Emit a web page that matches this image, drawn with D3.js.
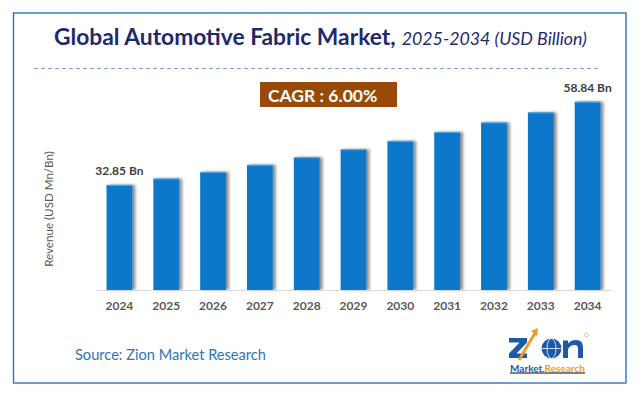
<!DOCTYPE html>
<html>
<head>
<meta charset="utf-8">
<script src="https://cdn.jsdelivr.net/npm/d3@7"></script>
<style>
  body { margin: 0; background: #fff; }
  svg { display: block; font-family: Lato, "Open Sans", sans-serif; }
</style>
</head>
<body>
<div class="chart"></div>
<script>
    const years = ["2024", "2025", "2026", "2027", "2028", "2029", "2030", "2031", "2032", "2033", "2034"];
    const revenue = [32.85, 34.82, 36.91, 39.12, 41.47, 43.96, 46.60, 49.39, 52.36, 55.50, 58.84];
    const labeledYears = ["2024", "2034"];
    const cagrText = "CAGR : 6.00%";

    const data = years.map((y, i) => ({year: y, value: revenue[i]}));

    const W = 640, H = 398;
    const svg = d3.select(".chart").append("svg")
        .attr("width", W)
        .attr("height", H);

    // shadow for bars
    const defs = svg.append("defs");
    const f = defs.append("filter").attr("id", "shadow")
        .attr("x", "-20%").attr("y", "-10%").attr("width", "160%").attr("height", "120%");
    f.append("feDropShadow")
        .attr("dx", 3).attr("dy", 0)
        .attr("stdDeviation", 1.8)
        .attr("flood-color", "#000")
        .attr("flood-opacity", 0.45);

    // outer frame
    svg.append("rect")
        .attr("x", 13.5).attr("y", 13)
        .attr("width", 612.5).attr("height", 370)
        .attr("fill", "none")
        .attr("stroke", "#2e75b6")
        .attr("stroke-width", 1.4);

    // title
    const title = svg.append("text")
        .attr("x", 54).attr("y", 45)
        .attr("fill", "#1f2a6b");
    title.append("tspan")
        .attr("font-size", "22.8px")
        .attr("font-weight", "bold")
        .text("Global Automotive Fabric Market,");
    title.append("tspan")
        .attr("font-size", "17.8px")
        .attr("font-style", "italic")
        .attr("dx", 6)
        .text("2025-2034 (USD Billion)");

    svg.append("line")
        .attr("x1", 34).attr("x2", 598)
        .attr("y1", 68.5).attr("y2", 68.5)
        .attr("stroke", "#7f9fd6")
        .attr("stroke-width", 1)
        .attr("stroke-dasharray", "4,3");

    // scales
    const xScale = d3.scaleBand()
        .domain(years)
        .range([96, 611])
        .paddingInner(0.45)
        .paddingOuter(0.225);

    const yScale = d3.scaleLinear()
        .domain([0, 60])
        .range([290, 98]);

    const plot = svg.append("g");

    plot.selectAll("rect.bar")
        .data(data)
        .enter()
        .append("rect")
        .attr("class", "bar")
        .attr("x", d => xScale(d.year))
        .attr("y", d => yScale(d.value))
        .attr("width", xScale.bandwidth())
        .attr("height", d => yScale(0) - yScale(d.value))
        .attr("fill", "#0878ca")
        .attr("filter", "url(#shadow)");

    // light edge on bar tops
    plot.selectAll("line.top")
        .data(data)
        .enter()
        .append("line")
        .attr("class", "top")
        .attr("x1", d => xScale(d.year))
        .attr("x2", d => xScale(d.year) + xScale.bandwidth())
        .attr("y1", d => yScale(d.value) + 0.5)
        .attr("y2", d => yScale(d.value) + 0.5)
        .attr("stroke", "#5ea6e0")
        .attr("stroke-width", 1);

    // x axis
    const xAxis = d3.axisBottom(xScale).tickSize(0).tickPadding(11);
    const gx = svg.append("g")
        .attr("class", "axis x-axis")
        .attr("transform", "translate(0,290)")
        .call(xAxis);
    gx.select(".domain")
        .attr("stroke", "#d9d9d9")
        .attr("stroke-width", 1.2);
    gx.selectAll("text")
        .attr("font-family", "Lato, sans-serif")
        .attr("font-size", "12px")
        .attr("font-weight", "bold")
        .attr("fill", "#595959");

    // value labels
    plot.selectAll("text.val")
        .data(data.filter(d => labeledYears.includes(d.year)))
        .enter()
        .append("text")
        .attr("class", "val")
        .attr("x", d => xScale(d.year) + xScale.bandwidth() / 2)
        .attr("y", d => yScale(d.value) - 9.5)
        .attr("text-anchor", "middle")
        .attr("font-size", "12px")
        .attr("font-weight", "bold")
        .attr("fill", "#404040")
        .text(d => d3.format(".2f")(d.value) + " Bn");

    // CAGR box
    svg.append("rect")
        .attr("x", 260).attr("y", 82)
        .attr("width", 137).attr("height", 25)
        .attr("fill", "#994a07");
    svg.append("text")
        .attr("x", 268).attr("y", 101.5)
        .attr("font-size", "17.5px")
        .attr("font-weight", "bold")
        .attr("fill", "#fff")
        .text(cagrText);

    // y-axis title
    svg.append("text")
        .attr("transform", "translate(52.5,209) rotate(-90)")
        .attr("text-anchor", "middle")
        .attr("font-size", "11.6px")
        .attr("fill", "#595959")
        .text("Revenue (USD Mn/Bn)");

    // source
    svg.append("text")
        .attr("x", 75).attr("y", 360)
        .attr("font-size", "14.6px")
        .attr("fill", "#2e75b6")
        .text("Source: Zion Market Research");

    // logo (drawn as shapes)
    const logo = svg.append("g").attr("class", "logo");
    logo.append("path")
        .attr("d", "M509,338 H527 V342.5 L516.5,353.5 H527 V358 H509 V353.5 L519.5,342.5 H509 Z")
        .attr("fill", "#1c5aa6");
    logo.append("line")
        .attr("x1", 519).attr("y1", 360)
        .attr("x2", 535).attr("y2", 333)
        .attr("stroke", "#f39a1e")
        .attr("stroke-width", 2.8);
    logo.append("path")
        .attr("d", "M531,331 L538,328 L537,336 Z")
        .attr("fill", "#f39a1e");
    logo.append("circle")
        .attr("cx", 551.5).attr("cy", 348.5).attr("r", 10)
        .attr("fill", "#1c5aa6");
    logo.append("ellipse")
        .attr("cx", 551.5).attr("cy", 348.5).attr("rx", 4.5).attr("ry", 10)
        .attr("fill", "none").attr("stroke", "#fff").attr("stroke-width", 0.8);
    logo.append("line")
        .attr("x1", 541.5).attr("x2", 561.5).attr("y1", 348.5).attr("y2", 348.5)
        .attr("stroke", "#fff").attr("stroke-width", 0.8);
    logo.append("path")
        .attr("d", "M563,358 V340.5 H568 V343.5 C570,341 573,340 576,340 C581,340 583,343 583,347.5 V358 H578 V348.5 C578,346.5 577,345 575,345 C571.5,345 568,347 568,350.5 V358 Z")
        .attr("fill", "#1c5aa6");
    logo.append("circle")
        .attr("cx", 586.5).attr("cy", 335).attr("r", 2)
        .attr("fill", "none").attr("stroke", "#f39a1e").attr("stroke-width", 0.6);
    const mr = logo.append("text")
        .attr("x", 510).attr("y", 371.5)
        .attr("font-size", "10px")
        .attr("font-weight", "bold")
        .attr("text-decoration", "underline");
    mr.append("tspan").attr("fill", "#1c5aa6").text("Market.");
    mr.append("tspan").attr("fill", "#f39a1e").text("Research");
</script>
</body>
</html>
